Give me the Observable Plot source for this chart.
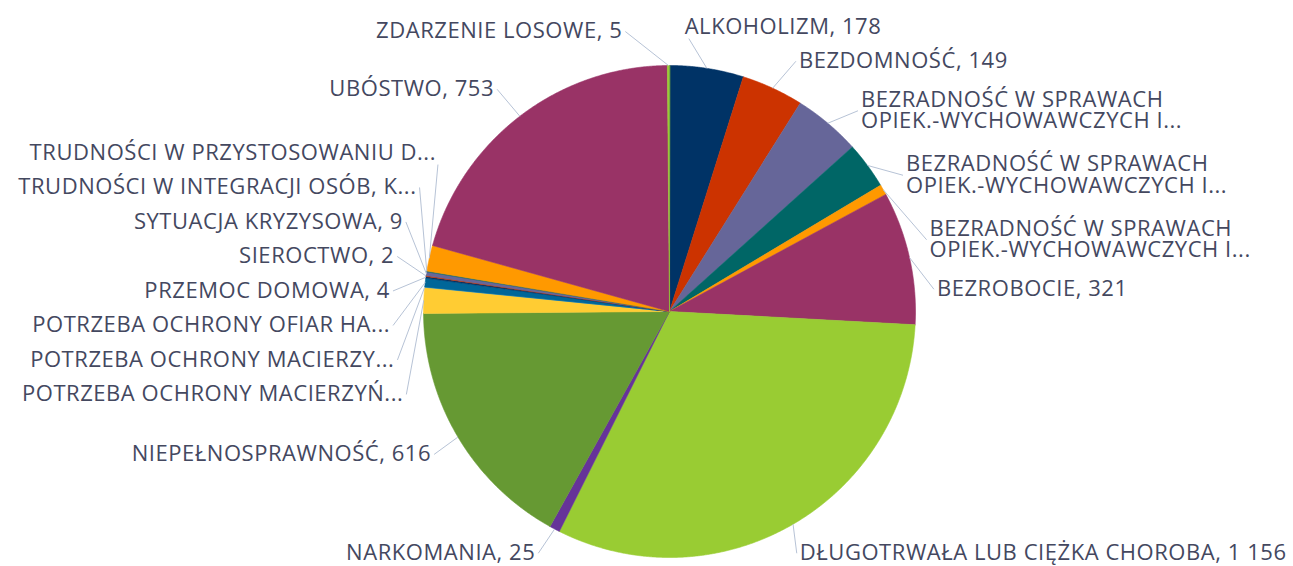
<!DOCTYPE html>
<html><head><meta charset="utf-8">
<script src="https://cdn.jsdelivr.net/npm/d3@7"></script>
<script src="https://cdn.jsdelivr.net/npm/@observablehq/plot@0.6"></script>
<style>body{margin:0;background:#fff;overflow:hidden} #chart{width:1293px;height:566px}</style>
</head><body><div id="chart"></div>
<script>
// ---- data ----
const names = [
  "ALKOHOLIZM",
  "BEZDOMNOŚĆ",
  "BEZRADNOŚĆ W SPRAWACH\nOPIEK.-WYCHOWAWCZYCH I...",
  "BEZRADNOŚĆ W SPRAWACH\nOPIEK.-WYCHOWAWCZYCH I...",
  "BEZRADNOŚĆ W SPRAWACH\nOPIEK.-WYCHOWAWCZYCH I...",
  "BEZROBOCIE",
  "DŁUGOTRWAŁA LUB CIĘŻKA CHOROBA",
  "NARKOMANIA",
  "NIEPEŁNOSPRAWNOŚĆ",
  "POTRZEBA OCHRONY MACIERZYŃ...",
  "POTRZEBA OCHRONY MACIERZY...",
  "POTRZEBA OCHRONY OFIAR HA...",
  "PRZEMOC DOMOWA",
  "SIEROCTWO",
  "SYTUACJA KRYZYSOWA",
  "TRUDNOŚCI W INTEGRACJI OSÓB, K...",
  "TRUDNOŚCI W PRZYSTOSOWANIU D...",
  "UBÓSTWO",
  "ZDARZENIE LOSOWE"
];
const values = [178, 149, 162, 113, 25, 321, 1156, 25, 616, 62, 1, 21, 4, 2, 9, 2, 62, 753, 5];
const palette = ["#003366", "#cc3300", "#666699", "#006666", "#ff9900", "#993366",
                 "#99cc33", "#663399", "#669933", "#ffcc33", "#3399cc", "#006699"];

// ---- layout parameters ----
const W = 1293, H = 566, cx = 669, cy = 311, R = 246;
const LR = 280, minY = 9, maxY = 570;
const lcx = 669, lcy = 307, RL = 280, RXr = 268, RYr = 281.2;
const fmt = v => d3.format(",")(v).replace(/,/g, " ");

const data = names.map((n, i) => ({
  key: "k" + i, name: n, value: values[i], color: palette[i % palette.length],
  label: n.endsWith("...") ? n : n + ", " + fmt(values[i])
}));
const arcs = d3.pie().sort(null).value(d => d.value)(data);

// slice polygons
const poly = [];
arcs.forEach(a => {
  const k = a.data.key;
  poly.push({key: k, x: cx, y: cy});
  const n = Math.max(2, Math.ceil((a.endAngle - a.startAngle) / 0.004));
  for (let j = 0; j <= n; j++) {
    const t = a.startAngle + (a.endAngle - a.startAngle) * j / n;
    poly.push({key: k, x: cx + R * Math.sin(t), y: cy - R * Math.cos(t)});
  }
});

// labels
const items = arcs.map(a => {
  const mid = (a.startAngle + a.endAngle) / 2;
  const lines = a.data.label.split("\n").length;
  return {label: a.data.label, mid, lines, side: mid < Math.PI ? "right" : "left",
          ideal: cy - LR * Math.cos(mid), h: 34.5 + 30 * (lines - 1)};
});
function distribute(list) {
  list.sort((a, b) => a.ideal - b.ideal);
  let clusters = list.map(it => [it]);
  const place = c => {
    let off = 0;
    c.forEach((it, k) => { if (k > 0) off += (c[k - 1].h + it.h) / 2; it.off = off; });
    let y0 = d3.mean(c, it => it.ideal - it.off);
    y0 = Math.max(y0, minY + c[0].h / 2);
    const last = c[c.length - 1];
    y0 = Math.min(y0, maxY - last.h / 2 - last.off);
    c.forEach(it => it.y = y0 + it.off);
  };
  let changed = true;
  while (changed) {
    changed = false;
    clusters.forEach(place);
    for (let k = 0; k < clusters.length - 1; k++) {
      const a = clusters[k][clusters[k].length - 1], b = clusters[k + 1][0];
      if (b.y - a.y < (a.h + b.h) / 2 - 0.01) {
        clusters.splice(k, 2, clusters[k].concat(clusters[k + 1]));
        changed = true; break;
      }
    }
  }
}
distribute(items.filter(d => d.side === "right"));
distribute(items.filter(d => d.side === "left"));
items.forEach(it => {
  const dy = it.y - lcy;
  if (it.side === "right") {
    it.lx = lcx + RXr * Math.sqrt(Math.max(0, 1 - (dy / RYr) ** 2));
  } else {
    it.lx = lcx - Math.sqrt(Math.max(0, RL * RL - dy * dy));
  }
  // leader from the arc to the edge of the label box
  const px = cx + R * Math.sin(it.mid), py = cy - R * Math.cos(it.mid);
  const ax = it.side === "right" ? it.lx - 3 : it.lx + 3, ay = it.y;
  const th = it.lines * 11 + 1;
  let ex = ax, ey = ay;
  for (let s = 0; s <= 200; s++) {
    const t = s / 200, x = px + (ax - px) * t, y = py + (ay - py) * t;
    const inBox = (it.side === "right" ? x >= ax - 0.01 : x <= ax + 0.01) && y >= ay - th && y <= ay + th;
    if (inBox) { ex = x; ey = y; break; }
  }
  it.x1 = px; it.y1 = py; it.x2 = ex; it.y2 = ey;
});
const font = "'Open Sans', sans-serif";
const textOpts = {x: "lx", y: "y", text: "label", fontSize: 22, fontFamily: font, fill: "#44485f", lineHeight: 0.98};

const chart = Plot.plot({
  width: W, height: H, margin: 0,
  style: {letterSpacing: "0.55px", background: "#fff"},
  x: {domain: [0, W], range: [0, W], axis: null},
  y: {domain: [0, H], range: [0, H], axis: null},
  color: {domain: data.map(d => d.key), range: data.map(d => d.color)},
  marks: [
    Plot.line(poly, {x: "x", y: "y", z: "key", fill: "key", stroke: "key", strokeWidth: 0.6, curve: "linear-closed"}),
    Plot.link(items, {x1: "x1", y1: "y1", x2: "x2", y2: "y2", stroke: "#b7c3d6", strokeWidth: 1}),
    Plot.text(items.filter(d => d.side === "right"), {...textOpts, textAnchor: "start"}),
    Plot.text(items.filter(d => d.side === "left"), {...textOpts, textAnchor: "end"})
  ]
});
document.getElementById("chart").appendChild(chart);
</script>
</body></html>
